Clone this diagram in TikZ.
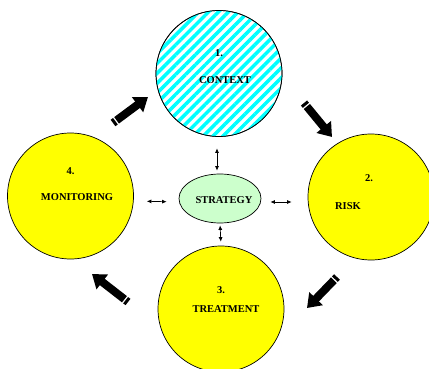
\documentclass[tikz,border=0pt]{standalone}
\usepackage{fontspec}
\setmainfont{Liberation Serif}
\usetikzlibrary{positioning, calc, patterns.meta, shapes.geometric, arrows.meta}

\definecolor{stageyellow}{RGB}{255,255,0}
\definecolor{stratgreen}{RGB}{204,255,204}
\definecolor{ctxcyan}{RGB}{0,255,255}

\tikzset{
	stage/.style={circle, draw, line width=0.7pt, minimum size=126pt, inner sep=0pt, fill=stageyellow},
	tag/.style={inner sep=0pt, font=\fontsize{10.5}{12}\selectfont\bfseries},
	duo/.style={{Latex[length=4.5pt,width=4pt]}-{Latex[length=4.5pt,width=4pt]}, line width=0.7pt},
	fat/.style={line width=8pt},
}

\begin{document}
\begin{tikzpicture}[x=1pt, y=-1pt]
	\clip (0,0) rectangle (429,369);
	\fill[white] (0,0) rectangle (429,369);

	% the four stages
	\node[stage, fill=white, postaction={pattern={Lines[angle=45, distance=7pt, line width=3.5pt]}, pattern color=ctxcyan}, postaction={draw, line width=0.7pt}] (ctx) at (219,73.5) {};
	\node[stage] (risk) at (371,197) {};
	\node[stage] (trt) at (221,309) {};
	\node[stage] (mon) at (70.5,196) {};
	\node[ellipse, draw, line width=0.7pt, fill=stratgreen, minimum width=82pt, minimum height=49pt, inner sep=0pt] (strat) at (220,198.5) {};

	\node[tag, above=17pt] (ctxnum) at (ctx) {1.};
	\node[tag, below=3pt, xshift=6pt] (ctxname) at (ctx) {CONTEXT};
	\node[tag, above=15.5pt, xshift=-2pt] (risknum) at (risk) {2.};
	\node[tag, below=5.5pt, xshift=-23pt] (riskname) at (risk) {RISK};
	\node[tag, above=15.5pt] (trtnum) at (trt) {3.};
	\node[tag, xshift=5pt] (trtname) at (trt) {TREATMENT};
	\node[tag, above=21.5pt] (monnum) at (mon) {4.};
	\node[tag, xshift=6.5pt, yshift=-1pt] (monname) at (mon) {MONITORING};
	\node[tag, xshift=4pt, yshift=-1.5pt] (stratname) at (strat) {STRATEGY};

	% strategy links
	\draw[duo, shorten <=11.5pt, shorten >=3pt] ([xshift=-2pt]ctx.south) -- ([xshift=-3pt]strat.north);
	\draw[duo, shorten <=2pt, shorten >=4pt] (strat.south) -- (trt.north);
	\draw[duo, shorten <=13pt, shorten >=12pt] ([yshift=-5pt]mon.east) -- ([yshift=-3.5pt]strat.west);
	\draw[duo, shorten <=9pt, shorten >=16pt] ([yshift=-3.5pt]strat.east) -- ([yshift=-5pt]risk.west);

	% cycle arrows
	\coordinate (s1) at (113,123); \coordinate (e1) at (148,97);
	\coordinate (s2) at (304,103); \coordinate (e2) at (332,137);
	\coordinate (s3) at (337,277); \coordinate (e3) at (307,308);
	\coordinate (s4) at (128,302); \coordinate (e4) at (92,274);
	\foreach \i in {1,...,4} {
		\draw[fat] (s\i) -- ($(s\i)!3pt!(e\i)$);
		\draw[fat, -{Triangle[length=13pt, width=18pt]}] ($(s\i)!4.5pt!(e\i)$) -- (e\i);
	}
\end{tikzpicture}
\end{document}
